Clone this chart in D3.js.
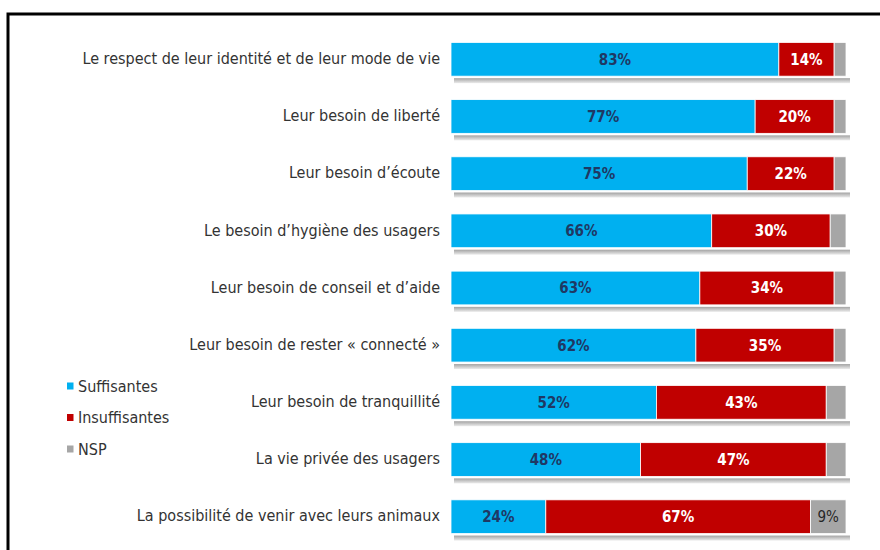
<!DOCTYPE html>
<html>
<head>
<meta charset="utf-8">
<script src="https://cdn.jsdelivr.net/npm/d3@7"></script>
<style>
  html, body { margin: 0; padding: 0; background: #fff; }
  svg { display: block; }
</style>
</head>
<body>
<svg id="chart" width="880" height="550"></svg>
<script>
// Opinion items (top to bottom)
const categories = [
  "Le respect de leur identité et de leur mode de vie",
  "Leur besoin de liberté",
  "Leur besoin d’écoute",
  "Le besoin d’hygiène des usagers",
  "Leur besoin de conseil et d’aide",
  "Leur besoin de rester « connecté »",
  "Leur besoin de tranquillité",
  "La vie privée des usagers",
  "La possibilité de venir avec leurs animaux"
];
const suffisantes   = [83, 77, 75, 66, 63, 62, 52, 48, 24];
const insuffisantes = [14, 20, 22, 30, 34, 35, 43, 47, 67];
const nsp           = [3, 3, 3, 4, 3, 3, 5, 5, 9];
const seriesNames   = ["Suffisantes", "Insuffisantes", "NSP"];
const seriesColors  = ["#00B0F0", "#C00000", "#A6A6A6"];
const labelColors   = ["#1F3864", "#FFFFFF", "#262626"];
// NSP values only labelled when wide enough
const nspLabelMin   = 9;

const svg = d3.select("#chart");
const font = "'DejaVu Sans Condensed', 'Liberation Sans Narrow', 'Open Sans', sans-serif";

// frame
svg.append("rect")
  .attr("x", 8).attr("y", 14)
  .attr("width", 900).attr("height", 600)
  .attr("fill", "none").attr("stroke", "#000").attr("stroke-width", 3);

const x = d3.scaleLinear().domain([0, 100]).range([451, 846]);
const y = d3.scaleBand().domain(categories).range([31, 545]).paddingInner(0.41).paddingOuter(0.2);

const rows = categories.map((c, i) => {
  const vals = [suffisantes[i], insuffisantes[i], nsp[i]];
  let acc = 0;
  const segs = vals.map((v, k) => {
    const s = { cat: c, k, v, x0: acc, x1: acc + v };
    acc += v;
    return s;
  });
  return { cat: c, segs };
});

// drop shadow under each bar
const defs = svg.append("defs");
const grad = defs.append("linearGradient").attr("id", "shadow").attr("x1", 0).attr("y1", 0).attr("x2", 0).attr("y2", 1);
grad.append("stop").attr("offset", "0%").attr("stop-color", "#a3a3a3");
grad.append("stop").attr("offset", "100%").attr("stop-color", "#ebebeb");

svg.append("g").selectAll("rect").data(categories).join("rect")
  .attr("x", x(0) + 3)
  .attr("y", d => y(d) + y.bandwidth() + 2)
  .attr("width", x(100) - x(0) + 1)
  .attr("height", 5)
  .attr("fill", "url(#shadow)");

const rowG = svg.append("g").selectAll("g").data(rows).join("g");

rowG.selectAll("rect").data(d => d.segs).join("rect")
  .attr("x", d => x(d.x0))
  .attr("y", d => y(d.cat))
  .attr("width", d => x(d.x1) - x(d.x0))
  .attr("height", y.bandwidth())
  .attr("fill", d => seriesColors[d.k])
  .attr("stroke", "#fff")
  .attr("stroke-width", 0.8);

rowG.selectAll("text").data(d => d.segs.filter(s => s.k < 2 || s.v >= nspLabelMin)).join("text")
  .attr("x", d => (x(d.x0) + x(d.x1)) / 2)
  .attr("y", d => y(d.cat) + y.bandwidth() / 2)
  .attr("dy", "0.36em")
  .attr("text-anchor", "middle")
  .attr("font-family", font)
  .attr("font-stretch", "condensed")
  .attr("font-weight", d => d.k === 2 ? "normal" : "bold")
  .attr("font-size", 15)
  .attr("fill", d => labelColors[d.k])
  .text(d => d.v + "%");

// category labels
svg.append("g").selectAll("text").data(categories).join("text")
  .attr("x", 440)
  .attr("y", d => y(d) + y.bandwidth() / 2)
  .attr("dy", "0.3em")
  .attr("text-anchor", "end")
  .attr("font-family", font)
  .attr("font-stretch", "condensed")
  .attr("font-size", 16)
  .attr("fill", "#333")
  .text(d => d);

// legend
const leg = svg.append("g").selectAll("g").data(seriesNames).join("g")
  .attr("transform", (d, i) => `translate(67, ${386 + i * 31.5})`);
leg.append("rect").attr("x", 0).attr("y", -3.5).attr("width", 6.5).attr("height", 7)
  .attr("fill", (d, i) => seriesColors[i]);
leg.append("text").attr("x", 11).attr("dy", "0.35em")
  .attr("font-family", font).attr("font-stretch", "condensed").attr("font-size", 16)
  .attr("fill", "#333").text(d => d);
</script>
</body>
</html>
